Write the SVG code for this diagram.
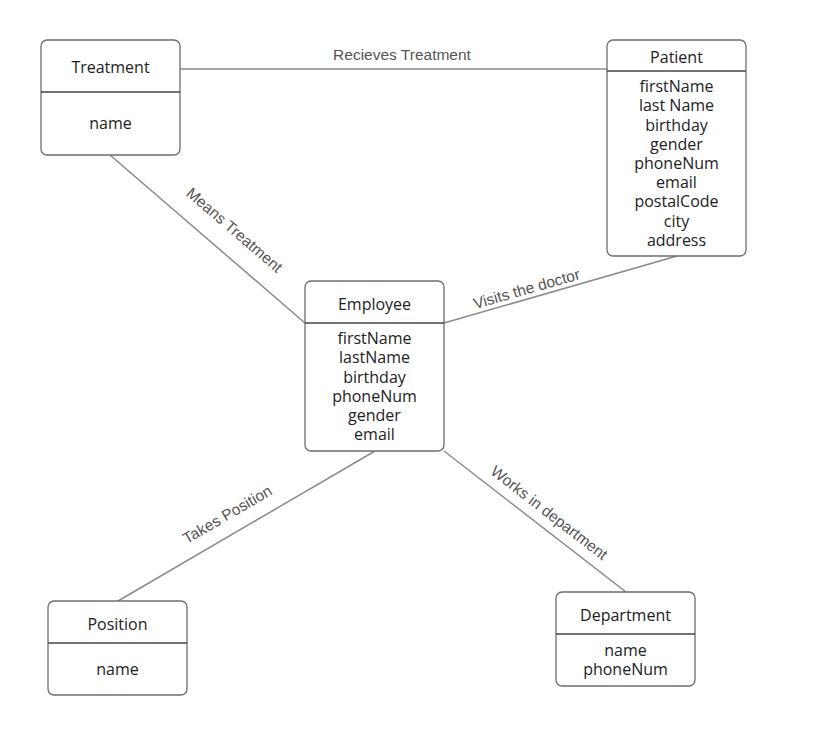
<svg xmlns="http://www.w3.org/2000/svg" width="822" height="729" viewBox="0 0 822 729">
<style>
.box{fill:#fff;stroke:#6e6e6e;stroke-width:1.3}
.div{stroke:#444;stroke-width:1.3}
.t{font-family:"Open Sans","Noto Sans",sans-serif;font-size:16px;fill:#222;text-anchor:middle}
.a{font-family:"Open Sans","Noto Sans",sans-serif;font-size:16px;fill:#222;text-anchor:middle}
.c{stroke:#8a8a8a;stroke-width:1.5;fill:none}
.l{font-family:"Liberation Sans",Arial,sans-serif;font-size:15.5px;fill:#555;text-anchor:middle}
</style>
<rect width="822" height="729" fill="#fff"/>
<g id="connectors">
<line class="c" x1="180" y1="69" x2="607" y2="69"/>
<line class="c" x1="110" y1="155" x2="305" y2="323"/>
<line class="c" x1="444" y1="323" x2="677" y2="256"/>
<line class="c" x1="375" y1="451" x2="118" y2="601"/>
<line class="c" x1="444" y1="451" x2="626" y2="592"/>
<text class="l" x="402" y="60">Recieves Treatment</text>
<text class="l" transform="translate(231,234) rotate(40.7)">Means Treatment</text>
<text class="l" transform="translate(528,294) rotate(-16)">Visits the doctor</text>
<text class="l" transform="translate(230,519) rotate(-30.3)">Takes Position</text>
<text class="l" transform="translate(546,517) rotate(37.8)">Works in department</text>
</g>
<g id="treatment">
<rect class="box" x="41" y="40" width="139" height="115" rx="6"/>
<line class="div" x1="41" y1="92" x2="180" y2="92"/>
<text class="t" x="110.5" y="73">Treatment</text>
<text class="a" x="110.5" y="129">name</text>
</g>
<g id="patient">
<rect class="box" x="607" y="40" width="139" height="216" rx="6"/>
<line class="div" x1="607" y1="71" x2="746" y2="71"/>
<text class="t" x="676.5" y="63">Patient</text>
<text class="a" x="676.5" y="92">firstName</text>
<text class="a" x="676.5" y="111">last Name</text>
<text class="a" x="676.5" y="131">birthday</text>
<text class="a" x="676.5" y="150">gender</text>
<text class="a" x="676.5" y="169">phoneNum</text>
<text class="a" x="676.5" y="188">email</text>
<text class="a" x="676.5" y="207">postalCode</text>
<text class="a" x="676.5" y="227">city</text>
<text class="a" x="676.5" y="246">address</text>
</g>
<g id="employee">
<rect class="box" x="305" y="281" width="139" height="170" rx="6"/>
<line class="div" x1="305" y1="323" x2="444" y2="323"/>
<text class="t" x="374.5" y="310">Employee</text>
<text class="a" x="374.5" y="344">firstName</text>
<text class="a" x="374.5" y="363">lastName</text>
<text class="a" x="374.5" y="383">birthday</text>
<text class="a" x="374.5" y="402">phoneNum</text>
<text class="a" x="374.5" y="421">gender</text>
<text class="a" x="374.5" y="440">email</text>
</g>
<g id="position">
<rect class="box" x="48" y="601" width="139" height="94" rx="6"/>
<line class="div" x1="48" y1="643" x2="187" y2="643"/>
<text class="t" x="117.5" y="630">Position</text>
<text class="a" x="117.5" y="675">name</text>
</g>
<g id="department">
<rect class="box" x="556" y="592" width="139" height="94" rx="6"/>
<line class="div" x1="556" y1="634" x2="695" y2="634"/>
<text class="t" x="625.5" y="621">Department</text>
<text class="a" x="625.5" y="656">name</text>
<text class="a" x="625.5" y="675">phoneNum</text>
</g>
</svg>
